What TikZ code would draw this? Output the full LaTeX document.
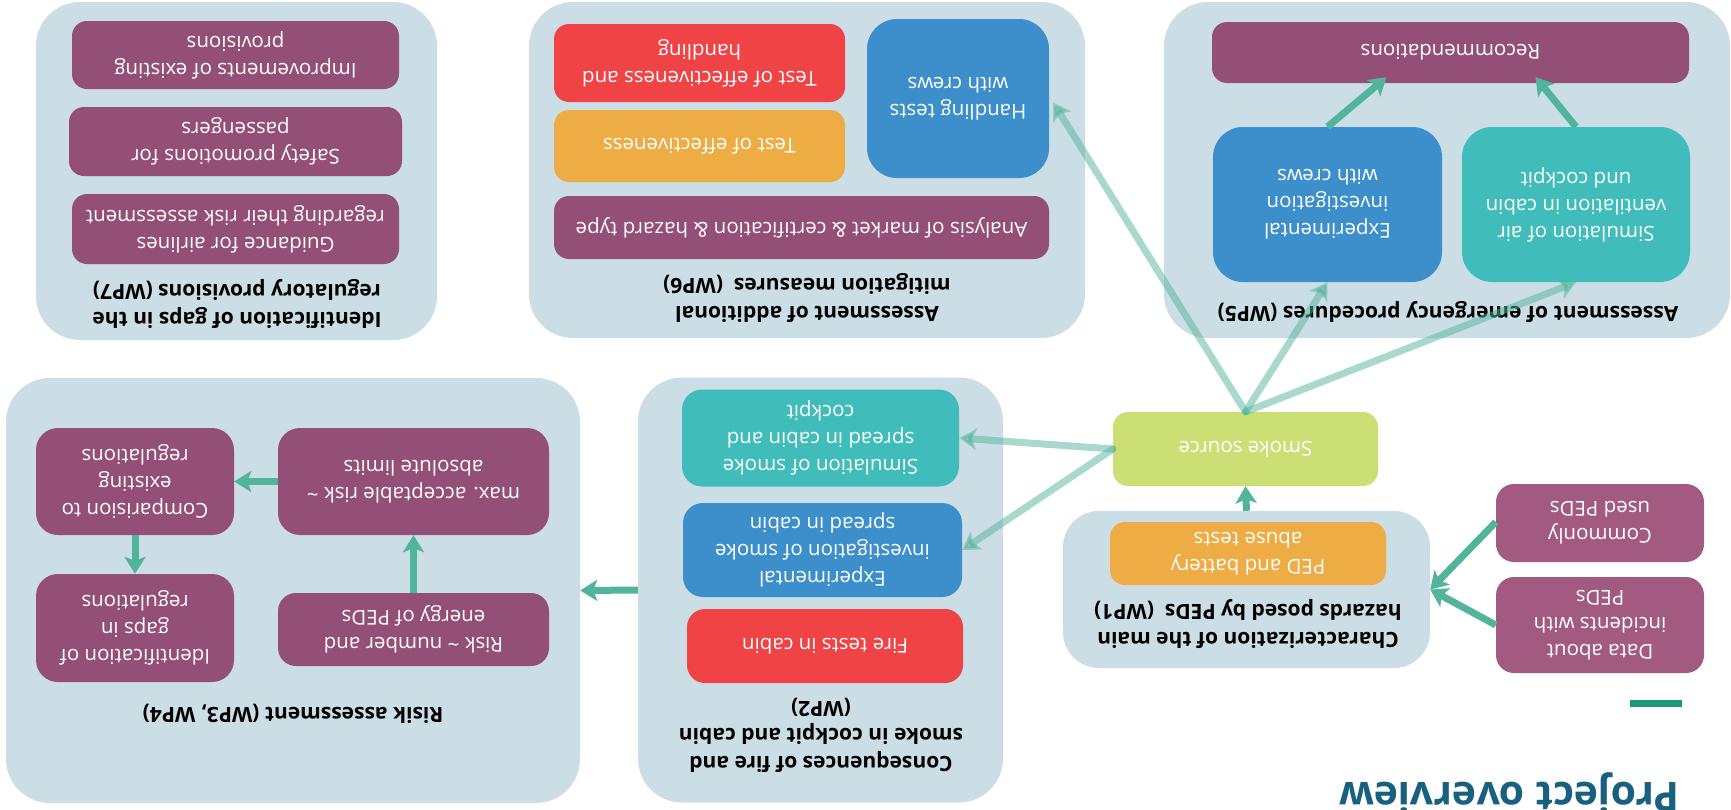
\documentclass[tikz,border=0pt]{standalone}
\usepackage{fontspec}
\setmainfont{Open Sans}
\usetikzlibrary{arrows.meta,calc}
\definecolor{panelc}{HTML}{CBDDE5}
\definecolor{plum}{HTML}{944F77}
\definecolor{plumlight}{HTML}{A35A80}
\definecolor{azure}{HTML}{3D8FCB}
\definecolor{aqua}{HTML}{40BDBA}
\definecolor{tomato}{HTML}{EF4346}
\definecolor{amber}{HTML}{EEAC45}
\definecolor{limec}{HTML}{CCDF74}
\definecolor{arrowc}{HTML}{52B59B}
\definecolor{barc}{HTML}{1A9A78}
\definecolor{titlec}{HTML}{17607F}

\begin{document}
\begin{tikzpicture}
[x=1pt, y=-1pt,
every node/.style={rotate=180},
panel/.style ={rectangle, fill=panelc, rounded corners=44pt, inner sep=0pt},
wptitle/.style ={align=center, inner sep=0pt, font=\bfseries\fontsize{21}{27.5}\selectfont},
box/.style ={rectangle, rounded corners=15pt, text=white, align=center, inner sep=0pt, font=\fontsize{20.5}{27}\selectfont},
plumbox/.style ={box, fill=plum},
azurebox/.style ={box, fill=azure},
aquabox/.style ={box, fill=aqua},
redbox/.style ={box, fill=tomato},
amberbox/.style ={box, fill=amber},
line/.style ={draw=arrowc, line width=7pt, -{Stealth[length=17pt,width=21pt,inset=4pt]}},
faint/.style ={line, opacity=0.5, line cap=round}]
\useasboundingbox (0,0) rectangle (1731,809);
\clip (0,0) rectangle (1731,809);
\fill[white] (0,0) rectangle (1731,809);
% work package panels
\draw (236.5, 171) node[panel, minimum width=401pt, minimum height=338pt] (wp7) {};
\draw (807, 170) node[panel, minimum width=556pt, minimum height=336pt] (wp6) {};
\draw (1447, 170) node[panel, minimum width=566pt, minimum height=336pt] (wp5) {};
\draw (293, 590.5) node[panel, minimum width=574pt, minimum height=425pt] (wp34) {};
\draw (820.5, 590) node[panel, minimum width=365pt, minimum height=425pt] (wp2) {};
\draw (1246.5, 589.5) node[panel, minimum width=367pt, minimum height=157pt, rounded corners=36pt] (wp1) {};
% WP7
\draw (235.5, 55) node[plumbox, minimum width=327pt, minimum height=68pt] (impr) {Improvements of existing\\provisions};
\draw (235.5, 141.5) node[plumbox, minimum width=333pt, minimum height=69pt] (safety) {Safety promotions for\\passengers};
\draw (235.5, 229) node[plumbox, minimum width=327pt, minimum height=70pt] (guide) {Guidance for airlines\\regarding their risk assessment};
\draw (237, 304) node[wptitle] (wp7t) {Identification of gaps in the\\regulatory provisions (WP7)};
% WP6
\draw (958, 98.5) node[azurebox, minimum width=182pt, minimum height=159pt, rounded corners=30pt] (hand) {Handling tests\\with crews};
\draw (699.5, 63) node[redbox, minimum width=291pt, minimum height=78pt] (testh) {Test of effectiveness and\\handling};
\draw (699.5, 146) node[amberbox, minimum width=291pt, minimum height=72pt] (teste) {Test of effectiveness};
\draw (801.5, 227.5) node[plumbox, minimum width=495pt, minimum height=63pt] (market) {Analysis of market \& certification \& hazard type};
\draw (807, 298) node[wptitle] (wp6t) {Assessment of additional\\mitigation measures\ \ (WP6)};
% WP5
\draw (1450.5, 52.5) node[plumbox, minimum width=477pt, minimum height=61pt] (rec) {Recommendations};
\draw (1327.5, 204.5) node[azurebox, minimum width=229pt, minimum height=155pt, rounded corners=30pt] (crews) {Experimental\\investigation\\with crews};
\draw (1576, 204.5) node[aquabox, minimum width=228pt, minimum height=155pt, rounded corners=30pt] (venti) {Simulation of air\\ventilation in cabin\\und cockpit};
\draw (1448, 312) node[wptitle] (wp5t) {Assessment of emergency procedures (WP5)};
% WP3, WP4
\draw (413.5, 481.5) node[plumbox, minimum width=271pt, minimum height=107pt, rounded corners=22pt] (maxrisk) {max. acceptable risk \textasciitilde\\absolute limits};
\draw (135, 481.5) node[plumbox, minimum width=198pt, minimum height=107pt, rounded corners=22pt] (compare) {Comparision to\\existing\\regulations};
\draw (135, 628) node[plumbox, minimum width=198pt, minimum height=108pt, rounded corners=22pt] (gaps) {Identification of\\gaps in\\regulations};
\draw (413.5, 629.5) node[plumbox, minimum width=271pt, minimum height=73pt, rounded corners=18pt] (risk) {Risk \textasciitilde{} number and\\energy of PEDs};
\draw (293, 714) node[wptitle] (wp34t) {Risik assessment (WP3, WP4)};
% WP2
\draw (820.5, 438) node[aquabox, minimum width=277pt, minimum height=97pt, rounded corners=20pt] (spreadsim) {Simulation of smoke\\spread in cabin and\\cockpit};
\draw (822.5, 550) node[azurebox, minimum width=279pt, minimum height=94pt, rounded corners=20pt] (spreadexp) {Experimental\\investigation of smoke\\spread in cabin};
\draw (825, 646) node[redbox, minimum width=276pt, minimum height=74pt, rounded corners=18pt] (fire) {Fire tests in cabin};
\draw (821, 735) node[wptitle] (wp2t) {Consequences of fire and\\smoke in cockpit and cabin\\(WP2)};
% WP1 and inputs
\draw (1248, 553.5) node[amberbox, minimum width=276pt, minimum height=63pt] (abuse) {PED and battery\\abuse tests};
\draw (1248, 624) node[wptitle] (wp1t) {Characterization of the main\\hazards posed by PEDs\ \ (WP1)};
\draw (1245.5, 449) node[box, fill=limec, minimum width=265pt, minimum height=74pt] (smoke) {Smoke source};
\draw (1600, 523) node[box, fill=plumlight, minimum width=208pt, minimum height=78pt, rounded corners=18pt] (common) {Commonly\\used PEDs};
\draw (1600, 625) node[box, fill=plumlight, minimum width=208pt, minimum height=96pt, rounded corners=18pt] (incid) {Data about\\incidents with\\PEDs};
% heading
\fill[barc] (1630,700) rectangle (1682,707);
\draw (1680, 782) node[anchor=base west, inner sep=0pt, text=titlec, font=\bfseries\fontsize{41}{48}\selectfont] (overview) {Project overview};
% arrows
\draw[line] (crews.south) -- ($(rec.north)+(-64,-6)$);
\draw[line] (venti.south) -- ($(rec.north)+(85,-6)$);
\draw[line] (risk.south) -- (maxrisk.north);
\draw[line] (maxrisk.east) -- (compare.west);
\draw[line] (compare.north) -- (gaps.south);
\draw[line] (wp2.east) -- (wp34.west);
\draw[line] (wp1.south) -- (smoke.north);
\draw[line] ($(common.east)+(0,-1)$) -- (wp1.west);
\draw[line] (incid.east) -- (wp1.west);
\draw[faint] (smoke.south) -- ($(hand.west)+(4,4)$);
\draw[faint] (smoke.south) -- (crews.north);
\draw[faint] (smoke.south) -- (venti.north);
\draw[faint] (smoke.east) -- (spreadsim.west);
\draw[faint] (smoke.east) -- (spreadexp.west);
\end{tikzpicture}
\end{document}
